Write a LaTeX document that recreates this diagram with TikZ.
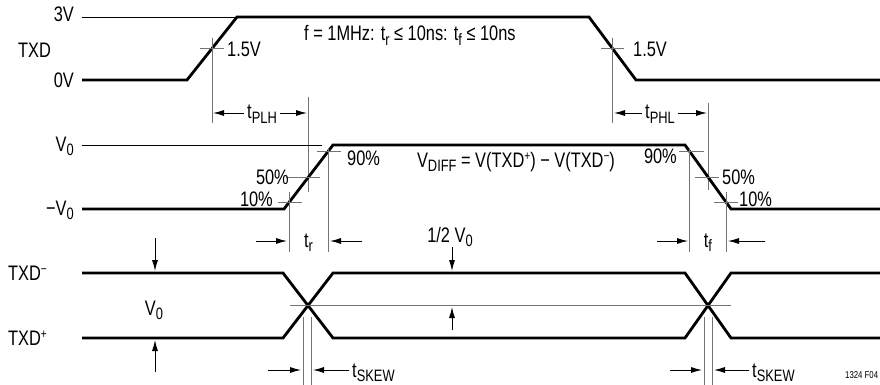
\documentclass[tikz,border=0pt]{standalone}
\usepackage{fontspec}
\setmainfont{Liberation Sans}[FakeStretch=0.78]
\usetikzlibrary{arrows.meta}
\usetikzlibrary{positioning}
\newcommand{\lo}[1]{\raisebox{-4.5pt}{\fontsize{16.5}{17}\selectfont #1}}
\newcommand{\hi}[1]{\raisebox{7pt}{\fontsize{13}{13}\selectfont #1}}
\tikzset{
  wave/.style={line width=2.8pt, line join=miter},
  thinline/.style={line width=0.8pt},
  guide/.style={line width=0.9pt, draw=black!55},
  dim/.style={line width=0.9pt, -{Latex[length=11pt,width=6pt]}},
  lbl/.style={inner sep=0pt, font=\fontsize{21}{23}\selectfont},
}

\begin{document}
\begin{tikzpicture}[x=1pt, y=-1pt]
                \useasboundingbox (0,0) rectangle (880,385);
                \draw[thinline] (82,17) -- (237,17);
                \draw[wave] (82,80) -- (187,80) -- (237,17) -- (589,17) -- (636,80) -- (880,80);
                \node[lbl, anchor=base east] (lvhi) at (74,22) {3V};
                \node[lbl, anchor=base east] (lvlo) at (74,88) {0V};
                \node[lbl, anchor=base west] (ltxd) at (18,58) {TXD};
                \node[lbl, anchor=base west] (spec) at (304,41) {f = 1MHz: t\lo{r} ≤ 10ns: t\lo{f} ≤ 10ns};
                \draw[guide] (200,48.5) -- (224,48.5);
                \draw[guide] (212,38) -- (212,123);
                \node[lbl, anchor=base west] (mrise) at (227,57) {1.5V};
                \draw[guide] (601,48.5) -- (624,48.5);
                \draw[guide] (612.5,38) -- (612.5,123);
                \node[lbl, anchor=base west] (mfall) at (633,57) {1.5V};
                \draw[guide] (308.5,97) -- (308.5,192);
                \draw[guide] (708,103) -- (708,190);
                \coordinate (plhL) at (213,113);
                \coordinate (plhR) at (307,113);
                \coordinate (phlL) at (614,113);
                \coordinate (phlR) at (707,113);
                \node[lbl, inner xsep=3pt, anchor=base] (tplh) at (262,119) {t\lo{PLH}};
                \node[lbl, inner xsep=3pt, anchor=base] (tphl) at (660,119) {t\lo{PHL}};
                \draw[dim] (tplh.west |- plhL) -- (plhL);
                \draw[dim] (tplh.east |- plhR) -- (plhR);
                \draw[dim] (tphl.west |- phlL) -- (phlL);
                \draw[dim] (tphl.east |- phlR) -- (phlR);

                \draw[thinline] (82,145) -- (322,145);
                \draw[wave] (82,209) -- (284,209) -- (333,145) -- (685,145) -- (731,209) -- (880,209);
                \node[lbl, anchor=base east] (ldhi) at (74,151) {V\lo{0}};
                \node[lbl, anchor=base east] (ldlo) at (74,215) {−V\lo{0}};
                \draw[guide] (278,202.6) -- (302,202.6);
                \draw[guide] (286,177) -- (320,177);
                \draw[guide] (317,151.4) -- (341,151.4);
                \draw[guide] (679,151.4) -- (704,151.4);
                \draw[guide] (695,177) -- (719,177);
                \draw[guide] (714,202.6) -- (738,202.6);
                \draw[guide] (289,192) -- (289,252);
                \draw[guide] (328,148) -- (328,252);
                \draw[guide] (689.6,148) -- (689.6,252);
                \draw[guide] (726.4,192) -- (726.4,252);
                \node[lbl, anchor=base west] (p90r) at (347,165) {90\%};
                \node[lbl, anchor=base east] (p50r) at (289,184) {50\%};
                \node[lbl, anchor=base east] (p10r) at (273,206) {10\%};
                \node[lbl, anchor=base east] (p90f) at (677,163) {90\%};
                \node[lbl, anchor=base west] (p50f) at (722,184) {50\%};
                \node[lbl, anchor=base west] (p10f) at (739,206) {10\%};
                \node[lbl, anchor=base] (vdiff) at (516,167) {V\lo{DIFF} = V(TXD\hi{+}) − V(TXD\hi{−})};
                \coordinate (trL) at (287,241);
                \coordinate (trR) at (330,241);
                \coordinate (tfL) at (688,241);
                \coordinate (tfR) at (728,241);
                \node[lbl, anchor=base] (trise) at (308.5,247) {t\lo{r}};
                \node[lbl, anchor=base] (tfall) at (708,247) {t\lo{f}};
                \draw[dim] (256,241) -- (trL);
                \draw[dim] (362,241) -- (trR);
                \draw[dim] (657,241) -- (tfL);
                \draw[dim] (765,241) -- (tfR);

                \draw[wave] (82,273) -- (283,273) -- (333,338) -- (685,338) -- (731,273) -- (880,273);
                \draw[wave] (82,338) -- (283,338) -- (333,273) -- (685,273) -- (731,338) -- (880,338);
                \node[lbl, anchor=base west] (lneg) at (8,280) {TXD\hi{−}};
                \node[lbl, anchor=base west] (lpos) at (8,345) {TXD\hi{+}};
                \draw[guide] (290,305.5) -- (731,305.5);
                \draw[guide] (303,317) -- (303,385);
                \draw[guide] (311,317) -- (311,385);
                \draw[guide] (704,317) -- (704,385);
                \draw[guide] (712,317) -- (712,385);
                \coordinate (topA) at (155,271);
                \coordinate (botA) at (155,340);
                \coordinate (topB) at (452,271);
                \coordinate (midB) at (452,307);
                \draw[dim] (155,238) -- (topA);
                \draw[dim] (155,372) -- (botA);
                \draw[dim] (452,247) -- (topB);
                \draw[dim] (452,330) -- (midB);
                \node[lbl, anchor=base] (vamp) at (154,315) {V\lo{0}};
                \node[lbl, anchor=base] (vhalf) at (450,242) {1/2 V\lo{0}};
                \coordinate (skL1) at (301,370);
                \coordinate (skL2) at (313,370);
                \coordinate (skR1) at (702,370);
                \coordinate (skR2) at (714,370);
                \node[lbl, inner xsep=3pt, anchor=base west] (skewl) at (349,377) {t\lo{SKEW}};
                \node[lbl, inner xsep=3pt, anchor=base west] (skewr) at (749,377) {t\lo{SKEW}};
                \draw[dim] (268,370) -- (skL1);
                \draw[dim] (skewl.west |- skL2) -- (skL2);
                \draw[dim] (670,370) -- (skR1);
                \draw[dim] (skewr.west |- skR2) -- (skR2);
                \node[inner sep=0pt, anchor=base west, font=\fontsize{10}{11}\selectfont] (figno) at (845,378) {1324 F04};
            \end{tikzpicture}
\end{document}
